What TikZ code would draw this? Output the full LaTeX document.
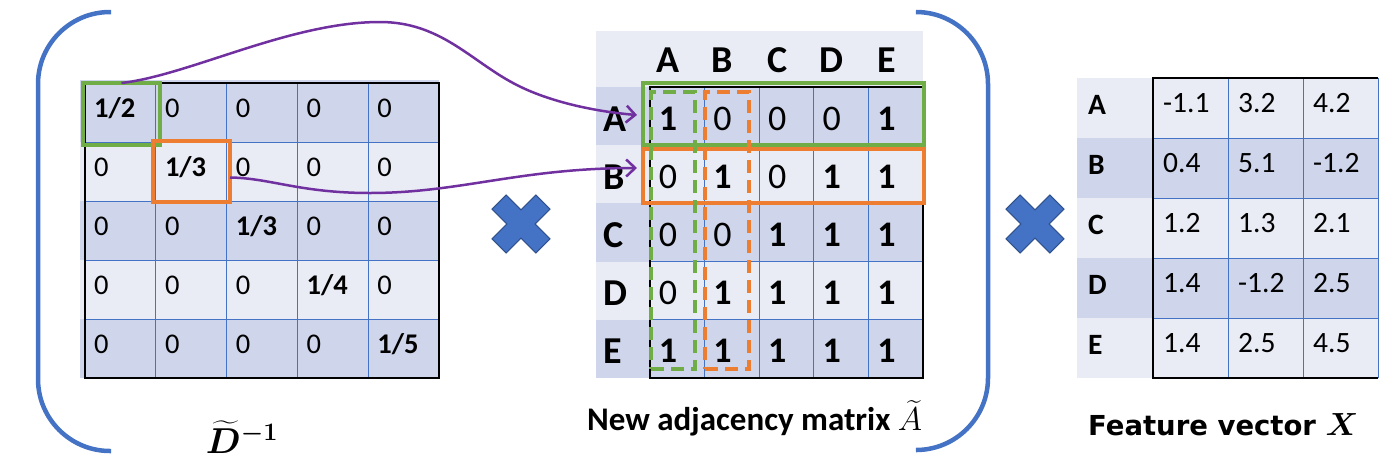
\RequirePackage{fix-cm}
\documentclass[tikz,border=0pt]{standalone}
\usepackage{amsmath}
\usepackage{fontspec}
\usepackage{bm}
\setmainfont{Carlito}
\newfontfamily\featfont{DejaVu Sans}
\usetikzlibrary{arrows.meta}
\definecolor{dk}{HTML}{CFD5EA}
\definecolor{lt}{HTML}{E9EBF5}
\definecolor{bl}{HTML}{4472C4}
\definecolor{bldk}{HTML}{2F528F}
\definecolor{gr}{HTML}{70AD47}
\definecolor{orr}{HTML}{ED7D31}
\definecolor{pu}{HTML}{7030A0}
\tikzset{
  xmark/.pic={
    \filldraw[fill=bl, draw=bldk, line width=1pt, rotate=45]
      (-10,-31) -- (10,-31) -- (10,-10) -- (31,-10) -- (31,10) -- (10,10) --
      (10,31) -- (-10,31) -- (-10,10) -- (-31,10) -- (-31,-10) -- (-10,-10) -- cycle;
  }
}
\begin{document}
\begin{tikzpicture}[x=1pt,y=-1pt,
  lcell/.style={anchor=base west, inner sep=0pt, font=\fontsize{28.5pt}{30pt}\selectfont},
  mcell/.style={anchor=base, inner sep=0pt, font=\fontsize{36pt}{38pt}\selectfont},
  mhead/.style={anchor=base, inner sep=0pt, font=\fontsize{38pt}{40pt}\selectfont\bfseries},
  mrow/.style={anchor=base west, inner sep=0pt, font=\fontsize{38pt}{40pt}\selectfont\bfseries},
  rcell/.style={anchor=base west, inner sep=0pt, font=\fontsize{29.5pt}{31pt}\selectfont},
  rrow/.style={anchor=base west, inner sep=0pt, font=\fontsize{29.5pt}{31pt}\selectfont\bfseries},
  hbox/.style={draw=#1, line width=4pt, inner sep=0pt, outer sep=0pt},
  dbox/.style={draw=#1, line width=3.5pt, dash pattern=on 13pt off 7pt, inner sep=0pt, outer sep=0pt},
  gridline/.style={bl, line width=0.9pt},
  borderline/.style={black, line width=1.3pt},
  parenline/.style={bl, line width=4.5pt, rounded corners=72pt},
  purplelink/.style={pu, line width=2.5pt, -{Straight Barb[length=9pt,width=17pt]}},
  titletext/.style={inner sep=0pt, font=\fontsize{33pt}{35pt}\selectfont\bfseries},
  feattext/.style={inner sep=0pt, font=\fontsize{27.5pt}{30pt}\selectfont\featfont\bfseries},
  mathlabel/.style={inner sep=0pt, font=\fontsize{36pt}{38pt}\selectfont},
]
\useasboundingbox (0,0) rectangle (1400,472);

% ---------- left matrix D^-1 ----------
\fill[dk] (80,80) rectangle (439,83);
\foreach \r in {0,...,4}{
  \ifodd\r \def\rc{lt}\else\def\rc{dk}\fi
  \fill[\rc] (80,{83+\r*59}) rectangle (439,{83+(\r+1)*59});
}
\foreach \c in {1,...,4}{
  \draw[gridline] ({85+\c*70.8},83) -- ({85+\c*70.8},378);
  \draw[gridline] (85,{83+\c*59}) -- (439,{83+\c*59});
}
\draw[borderline] (85,83) rectangle (439,378);
\foreach \d [count=\r from 0] in {2,3,3,4,5}{
  \foreach \c in {0,...,4}{
    \node[lcell] (l\r\c) at ({85+\c*70.8+9},{83+\r*59+34.5}) {\ifnum\r=\c\textbf{1/\d}\else 0\fi};
  }
}

% ---------- middle matrix A ----------
\fill[lt] (596,31) rectangle (923,87);
\foreach \r in {0,...,4}{
  \ifodd\r \def\rc{lt}\else\def\rc{dk}\fi
  \fill[\rc] (596,{87+\r*58.2}) rectangle (923,{87+(\r+1)*58.2});
}
\foreach \c in {1,...,4}{
  \draw[gridline] ({650+\c*54.6},87) -- ({650+\c*54.6},378);
  \draw[gridline] (650,{87+\c*58.2}) -- (923,{87+\c*58.2});
}
\draw[borderline] (650,87) rectangle (923,378);
\foreach \c [count=\i from 0] in {A,B,C,D,E}{
  \node[mhead] (h\c) at ({650+\i*54.6+18},72) {\c};
  \node[mrow] (r\c) at (603,{87+\i*58.2+44}) {\c};
}
\foreach \row [count=\r from 0] in {{1,0,0,0,1},{0,1,0,1,1},{0,0,1,1,1},{0,1,1,1,1},{1,1,1,1,1}}{
  \foreach \v [count=\c from 0] in \row {
    \node[mcell] (m\r\c) at ({650+\c*54.6+18},{87+\r*58.2+43}) {\ifnum\v=1 \textbf{1}\else 0\fi};
  }
}

% ---------- right matrix X ----------
\foreach \r in {0,...,4}{
  \ifodd\r \def\rc{dk}\else\def\rc{lt}\fi
  \fill[\rc] (1077,{78+\r*60}) rectangle (1378,{78+(\r+1)*60});
}
\foreach \c in {1,...,4}{
  \draw[gridline] (1153,{78+\c*60}) -- (1378,{78+\c*60});
}
\draw[gridline] (1228,78) -- (1228,378);
\draw[gridline] (1303,78) -- (1303,378);
\draw[gridline] (1378,78) -- (1378,378);
\draw[borderline] (1378,78) -- (1153,78) -- (1153,378) -- (1378,378);
\foreach \lab/\row [count=\r from 0] in {A/{-1.1,3.2,4.2},B/{0.4,5.1,-1.2},C/{1.2,1.3,2.1},D/{1.4,-1.2,2.5},E/{1.4,2.5,4.5}}{
  \node[rrow] (x\lab) at (1088,{78+\r*60+36}) {\lab};
  \foreach \v [count=\c from 0] in \row {
    \node[rcell] (x\r\c) at ({1153+\c*75+10},{78+\r*60+34}) {\v};
  }
}

% ---------- highlight boxes ----------
\node[hbox=gr, minimum width=77pt, minimum height=62pt] (g1) at (121.5,114) {};
\node[hbox=orr, minimum width=77pt, minimum height=61pt] (o1) at (191.5,171.5) {};
\node[hbox=gr, minimum width=281pt, minimum height=62pt] (g2) at (783.5,114) {};
\node[hbox=orr, minimum width=281pt, minimum height=54pt] (o2) at (783.5,176) {};
\node[dbox=gr, minimum width=44pt, minimum height=277pt] (g3) at (673,230.5) {};
\node[dbox=orr, minimum width=44pt, minimum height=277pt] (o3) at (727,230.5) {};

% ---------- purple links ----------
\coordinate (pk1) at (380,22);
\coordinate (md1) at (513,83);
\coordinate (tipA) at (637,115);
\coordinate (lo2) at (370,193);
\coordinate (tipB) at (637,168);
\draw[purplelink] (g1.north) .. controls (190,75) and (290,22) .. (pk1)
  .. controls (440,22) and (470,60) .. (md1)
  .. controls (550,103) and (600,112) .. (tipA);
\draw[purplelink] ([yshift=-6pt]o1.east) .. controls (270,178) and (300,193) .. (lo2)
  .. controls (460,193) and (520,168) .. (tipB);

% ---------- multiplication signs ----------
\pic at (521,224) {xmark};
\pic at (1035,224) {xmark};

% ---------- brackets ----------
\draw[parenline] (111,12) -- (38,12) -- (38,451) -- (111,451);
\draw[parenline] (917,12) -- (988,12) -- (988,450) -- (917,450);

% ---------- labels ----------
\node[mathlabel] (dlab) at (242,437) {$\bm{\widetilde{D}}^{\bm{-1}}$};
\node[titletext, anchor=base west] (alab) at (587,430) {New adjacency matrix $\widetilde{A}$};
\node[feattext, anchor=base west] (xlab) at (1088,435) {Feature vector {\fontsize{32pt}{34pt}\selectfont$\bm{X}$}};
\end{tikzpicture}
\end{document}
